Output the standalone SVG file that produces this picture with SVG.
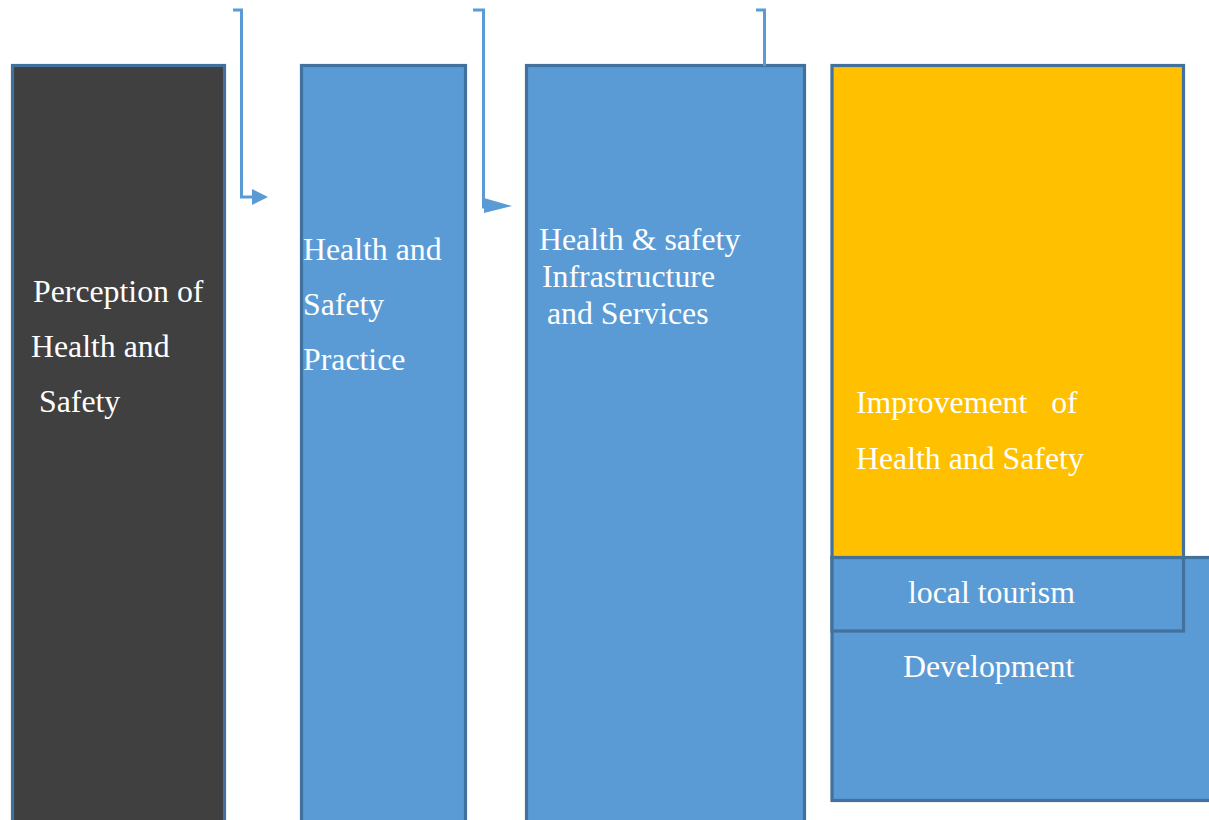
<svg xmlns="http://www.w3.org/2000/svg" width="1209" height="820" viewBox="0 0 1209 820">
<defs>
<style>
.box{stroke:#41719C;stroke-width:3.2}
.blue{fill:#5B9BD5}
.t{font-family:"Liberation Serif","Times New Roman",serif;font-size:31.8px;fill:#ffffff}
.c{fill:none;stroke:#5B9BD5;stroke-width:3}
</style>
</defs>
<rect width="1209" height="820" fill="#ffffff"/>
<g id="node-perception">
<rect class="box" x="12.5" y="65.5" width="212" height="770" fill="#404040"/>
<text class="t" x="33" y="302">Perception of</text>
<text class="t" x="31" y="357">Health and</text>
<text class="t" x="39" y="412">Safety</text>
</g>
<g id="node-practice">
<rect class="box blue" x="301.5" y="65.5" width="164" height="770"/>
<text class="t" x="303" y="260">Health and</text>
<text class="t" x="303" y="315">Safety</text>
<text class="t" x="303" y="370">Practice</text>
</g>
<g id="node-infrastructure">
<rect class="box blue" x="526.5" y="65.5" width="278" height="770"/>
<text class="t" x="539" y="250">Health &amp; safety</text>
<text class="t" x="542" y="287">Infrastructure</text>
<text class="t" x="547" y="324">and Services</text>
</g>
<g id="node-development">
<rect class="box blue" x="832" y="557.5" width="400" height="243"/>
<text class="t" x="903" y="677">Development</text>
</g>
<g id="node-local-tourism">
<rect class="box blue" x="832" y="557.5" width="351.5" height="73.5"/>
<text class="t" x="908" y="603">local tourism</text>
</g>
<g id="node-improvement">
<rect class="box" x="832" y="65.5" width="351.5" height="492" fill="#FFC000"/>
<text class="t" x="856" y="413" xml:space="preserve">Improvement   of</text>
<text class="t" x="856" y="469">Health and Safety</text>
</g>
<g id="connectors">
<polyline class="c" points="233,10 241.5,10 241.5,197 254,197"/>
<polygon points="252,189 268,197 252,205" fill="#5B9BD5"/>
<polyline class="c" points="473,10 483.5,10 483.5,207 486,207"/>
<polygon points="484,198 512,206 484,213" fill="#5B9BD5"/>
<polyline class="c" points="756,10 764.5,10 764.5,66"/>
</g>
</svg>
